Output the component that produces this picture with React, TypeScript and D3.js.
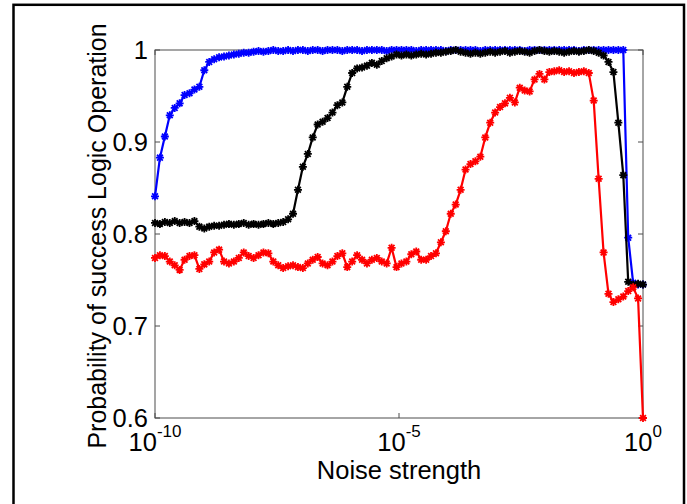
import React from "react";
import * as d3 from "d3";

const N = 100;
// logspace(-10, 0, 100) sampling grid of the noise strength
const noiseStrength = d3.range(N).map((i) => Math.pow(10, -10 + (10 * i) / (N - 1)));

const blueSeries = [
  0.841, 0.883, 0.906, 0.929, 0.937, 0.942, 0.951, 0.953, 0.957, 0.960,
  0.978, 0.987, 0.990, 0.992, 0.993, 0.994, 0.995, 0.996, 0.997, 0.997,
  0.998, 0.999, 0.998, 0.999, 1.000, 0.999, 0.999, 1.000, 0.999, 1.000,
  1.000, 0.999, 1.000, 1.000, 0.999, 1.000, 1.000, 1.000, 0.999, 1.000,
  1.000, 1.000, 0.999, 1.000, 1.000, 1.000, 1.000, 0.999, 1.000, 1.000,
  1.000, 1.000, 1.000, 0.999, 1.000, 1.000, 1.000, 1.000, 1.000, 0.999,
  1.000, 1.000, 1.000, 1.000, 1.000, 1.000, 0.999, 1.000, 1.000, 1.000,
  1.000, 1.000, 1.000, 1.000, 1.000, 0.999, 1.000, 1.000, 1.000, 1.000,
  1.000, 1.000, 1.000, 1.000, 1.000, 1.000, 0.999, 1.000, 1.000, 1.000,
  1.000, 1.000, 1.000, 1.000, 1.000, 1.000, 0.796, 0.747, 0.745, 0.745,
];

const blackSeries = [
  0.812, 0.811, 0.813, 0.812, 0.814, 0.812, 0.813, 0.812, 0.814, 0.808,
  0.806, 0.808, 0.809, 0.809, 0.810, 0.811, 0.810, 0.811, 0.812, 0.810,
  0.811, 0.810, 0.811, 0.812, 0.811, 0.812, 0.813, 0.816, 0.822, 0.848,
  0.873, 0.887, 0.905, 0.919, 0.922, 0.926, 0.932, 0.940, 0.943, 0.960,
  0.975, 0.980, 0.981, 0.983, 0.986, 0.984, 0.988, 0.991, 0.993, 0.995,
  0.994, 0.995, 0.994, 0.995, 0.996, 0.995, 0.996, 0.997, 0.997, 0.998,
  0.999, 1.000, 0.998, 0.997, 0.996, 0.997, 0.996, 0.997, 0.998, 0.997,
  0.998, 0.999, 0.997, 0.998, 0.999, 0.998, 0.997, 0.999, 1.000, 0.999,
  0.998, 0.999, 0.998, 0.997, 0.998, 0.999, 0.998, 0.999, 1.000, 0.999,
  0.997, 0.994, 0.987, 0.976, 0.921, 0.864, 0.748, 0.745, 0.746, 0.745,
];

const redSeries = [
  0.774, 0.777, 0.776, 0.770, 0.766, 0.761, 0.772, 0.776, 0.777, 0.762,
  0.767, 0.770, 0.780, 0.783, 0.770, 0.768, 0.770, 0.774, 0.780, 0.776,
  0.774, 0.777, 0.780, 0.779, 0.770, 0.766, 0.763, 0.765, 0.766, 0.764,
  0.763, 0.768, 0.772, 0.775, 0.768, 0.766, 0.770, 0.776, 0.779, 0.764,
  0.770, 0.777, 0.772, 0.768, 0.772, 0.774, 0.770, 0.768, 0.785, 0.764,
  0.768, 0.770, 0.778, 0.781, 0.772, 0.772, 0.776, 0.779, 0.791, 0.803,
  0.822, 0.832, 0.848, 0.870, 0.876, 0.879, 0.884, 0.905, 0.921, 0.932,
  0.938, 0.942, 0.948, 0.943, 0.959, 0.956, 0.955, 0.968, 0.974, 0.968,
  0.976, 0.977, 0.978, 0.976, 0.977, 0.975, 0.976, 0.977, 0.975, 0.945,
  0.860, 0.780, 0.735, 0.726, 0.729, 0.732, 0.738, 0.742, 0.730, 0.600,
];

const seriesList = [
  { name: "blue", values: blueSeries, color: "#0000ff" },
  { name: "black", values: blackSeries, color: "#000000" },
  { name: "red", values: redSeries, color: "#ff0000" },
];

const yTicks = [0.6, 0.7, 0.8, 0.9, 1];
const yTickLabels = ["0.6", "0.7", "0.8", "0.9", "1"];
const xTicks = [1e-10, 1e-5, 1];
const xTickExponents = ["-10", "-5", "0"];
const xLabel = "Noise strength";
const yLabel = "Probability of success Logic Operation";

const W = 687;
const H = 504;
const left = 155;
const right = 643;
const top = 50;
const bottom = 418;
const FONT = "'Liberation Sans', Arial, Helvetica, sans-serif";
const FS = 25.5;

export default function App() {
  const x = d3.scaleLog().domain([1e-10, 1]).range([left, right]);
  const y = d3.scaleLinear().domain([0.6, 1]).range([bottom, top]);
  const line = d3
    .line<number>()
    .x((_, i) => x(noiseStrength[i]))
    .y((d) => y(d));

  const s = 4;
  const k = s * 0.72;
  const star = `M${-s},0L${s},0M0,${-s}L0,${s}M${-k},${-k}L${k},${k}M${-k},${k}L${k},${-k}`;
  const axisColor = "#4d4d4d";
  const tickLen = 5;

  return (
    <svg
      width={W}
      height={H}
      style={{ position: "absolute", left: 0, top: 0, background: "#fff" }}
    >
      <rect x={0} y={0} width={W} height={H} fill="#fff" />
      <rect x={13.5} y={4.8} width={670.5} height={H + 20} fill="none" stroke="#000" strokeWidth={2.5} />

      {/* axes box */}
      <rect x={left} y={top} width={right - left} height={bottom - top} fill="none" stroke={axisColor} strokeWidth={1} />
      {yTicks.map((t) => (
        <g key={"yt" + t}>
          <line x1={left} x2={left + tickLen} y1={y(t)} y2={y(t)} stroke={axisColor} />
          <line x1={right} x2={right - tickLen} y1={y(t)} y2={y(t)} stroke={axisColor} />
        </g>
      ))}
      {xTicks.map((t) => (
        <g key={"xt" + t}>
          <line x1={x(t)} x2={x(t)} y1={bottom} y2={bottom - tickLen} stroke={axisColor} />
          <line x1={x(t)} x2={x(t)} y1={top} y2={top + tickLen} stroke={axisColor} />
        </g>
      ))}

      {/* series */}
      {seriesList.map((sr) => (
        <g key={sr.name}>
          <path d={line(sr.values) || ""} fill="none" stroke={sr.color} strokeWidth={2.2} strokeLinejoin="round" />
          {sr.values.map((v, i) => (
            <path
              key={i}
              d={star}
              transform={`translate(${x(noiseStrength[i])},${y(v)})`}
              fill="none"
              stroke={sr.color}
              strokeWidth={1.8}
            />
          ))}
        </g>
      ))}

      {/* tick labels */}
      {yTicks.map((t, i) => (
        <text
          key={"yl" + t}
          x={left - 7}
          y={y(t)}
          dy="0.34em"
          textAnchor="end"
          fontFamily={FONT}
          fontSize={FS}
          fill="#000"
        >
          {yTickLabels[i]}
        </text>
      ))}
      {xTicks.map((t, i) => (
        <text key={"xl" + t} x={x(t)} y={451} textAnchor="middle" fontFamily={FONT} fontSize={FS} fill="#000">
          10
          <tspan dy={-14} fontSize={17}>
            {xTickExponents[i]}
          </tspan>
        </text>
      ))}

      <text x={(left + right) / 2} y={479} textAnchor="middle" fontFamily={FONT} fontSize={FS} fill="#000">
        {xLabel}
      </text>
      <text
        transform={`translate(106,${236}) rotate(-90)`}
        textAnchor="middle"
        fontFamily={FONT}
        fontSize={25}
        fill="#000"
      >
        {yLabel}
      </text>
    </svg>
  );
}
